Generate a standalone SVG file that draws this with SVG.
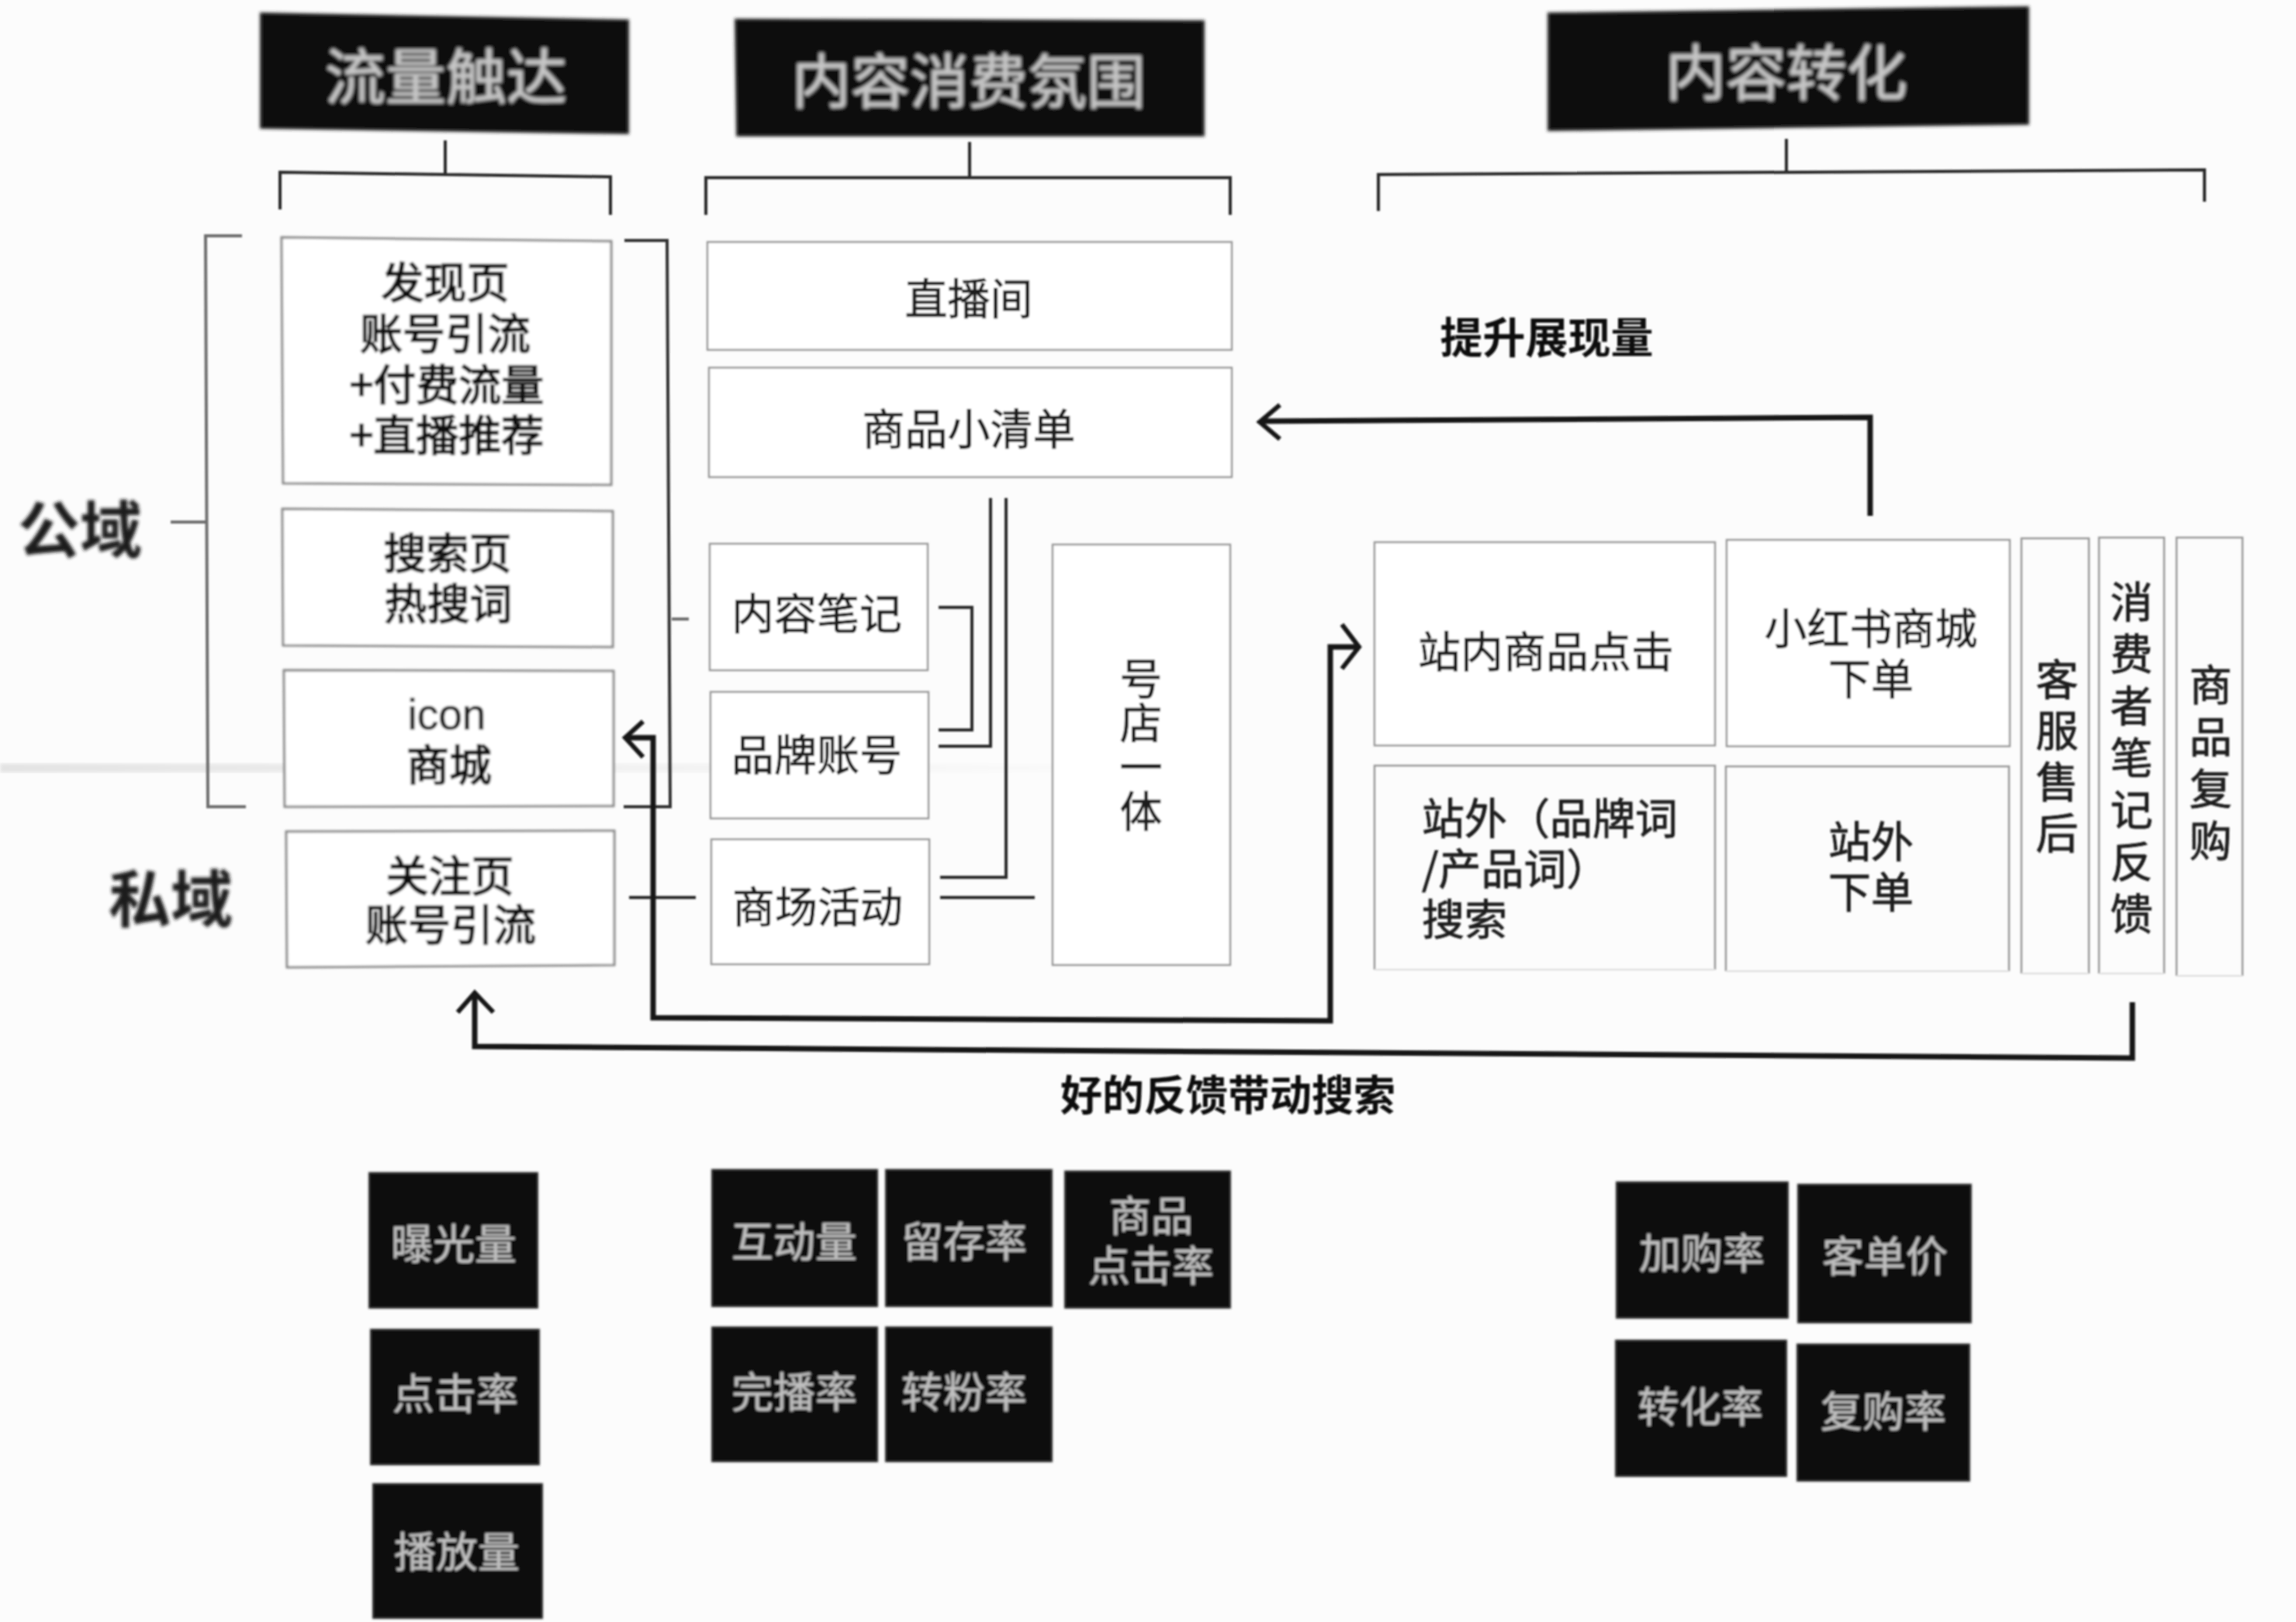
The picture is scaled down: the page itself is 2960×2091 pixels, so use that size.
<svg xmlns="http://www.w3.org/2000/svg" width="2960" height="2091" viewBox="0 0 2960 2091">
<defs>
<style>
text{font-family:"Noto Sans CJK SC","Noto Sans",sans-serif;text-anchor:middle;dominant-baseline:central}
.box{fill:#fff;stroke:#999;stroke-width:2.5}
.boxl{fill:#fff;stroke:#858585;stroke-width:3}
.open{fill:none;stroke:#999;stroke-width:2.5}
.faint{fill:none;stroke:#ddd;stroke-width:2}
.dark{fill:#0d0d0d;stroke:#2a2a2a;stroke-width:2}
.t{font-size:55px;fill:#1c1c1c;stroke:#1c1c1c;stroke-width:.8}
.tb{font-size:55px;fill:#111;stroke:#111;stroke-width:1.8}
.v{writing-mode:vertical-rl}
.h{font-size:78px;fill:#c6c6c6;stroke:#c6c6c6;stroke-width:.8}
.m{font-size:54px;fill:#c0c0c0;stroke:#c0c0c0;stroke-width:.3}
.l{font-size:80px;fill:#1a1a1a;font-weight:700}
.c{font-size:54px;fill:#111;font-weight:700}
.line{fill:none;stroke:#2a2a2a;stroke-width:4}
.gray{fill:none;stroke:#6e6e6e;stroke-width:4}
.thick{fill:none;stroke:#151515;stroke-width:7}
.head{fill:none;stroke:#151515;stroke-width:6}
</style>
<filter id="soft" x="-2%" y="-2%" width="104%" height="104%"><feGaussianBlur stdDeviation="1"/></filter>
<filter id="mid" x="-5%" y="-5%" width="110%" height="110%"><feGaussianBlur stdDeviation="1.5"/></filter>
<filter id="softer" x="-5%" y="-5%" width="110%" height="110%"><feGaussianBlur stdDeviation="2.2"/></filter>
<linearGradient id="fold" x1="0" x2="1" y1="0" y2="0"><stop offset="0" stop-color="#d4d4d4"/><stop offset="0.55" stop-color="#ececec"/><stop offset="1" stop-color="#fcfcfc"/></linearGradient>
</defs>
<rect width="2960" height="2091" fill="#fcfcfc"/>
<rect x="0" y="984" width="1500" height="12" fill="url(#fold)" filter="url(#softer)" opacity="0.6"/>

<g id="nodes-headers" filter="url(#softer)">
<g id="h1"><polygon class="dark" points="336,17 810,26 810,172 336,165"/><text class="h" x="575" y="94">流量触达</text></g>
<g id="h2"><polygon class="dark" points="948,25 1552,27 1552,175 950,175"/><text class="h" x="1249" y="100" style="font-size:76px">内容消费氛围</text></g>
<g id="h3"><polygon class="dark" points="1996,17 2615,9 2615,160 1996,168"/><text class="h" x="2303" y="89">内容转化</text></g>
</g>

<g id="connectors" filter="url(#soft)">
<path class="line" d="M574,181V226M361,270V222L787,228V277"/>
<path class="line" d="M1250,183V230M910,277V229H1586V277"/>
<path class="line" d="M2303,179V224M1777,272V225L2842,219V260"/>
<path class="gray" d="M312,304H265L268,1040H317"/>
<path class="gray" d="M805,310H860L864,1040H804" style="stroke:#333"/>
<path class="gray" d="M220,673H265"/>
<path class="gray" d="M866,798H888"/>
<path class="line" d="M1210,783H1253V941H1210"/>
<path class="line" d="M1210,962H1277V642"/>
<path class="line" d="M1212,1131H1297V642"/>
<path class="line" d="M1212,1157H1334"/>
<path class="line" d="M811,1157H897"/>
<path class="thick" d="M808,951H842V1312L1715,1316V834H1750"/>
<path class="head" d="M829,930L806,951L829,976"/>
<path class="head" d="M1730,805L1752,834L1730,862"/>
<path class="thick" d="M2749,1292V1364L612,1349V1284"/>
<path class="head" d="M590,1305L612,1280L636,1305"/>
<path class="thick" d="M2411,665V538L1628,543"/>
<path class="head" d="M1650,522L1624,544L1650,566"/>
</g>

<g id="left-column" filter="url(#mid)">
<g id="n1"><polygon class="boxl" points="363,306 788,311 788,625 365,623"/><text class="tb" x="574"><tspan x="574" y="360">发现页</tspan><tspan x="574" y="426">账号引流</tspan><tspan x="576" y="492">+付费流量</tspan><tspan x="576" y="557">+直播推荐</tspan></text></g>
<g id="n2"><polygon class="boxl" points="364,656 790,659 790,834 365,832"/><text class="tb"><tspan x="577" y="709">搜索页</tspan><tspan x="578" y="774">热搜词</tspan></text></g>
<g id="n3"><polygon class="boxl" points="366,864 791,865 791,1039 367,1040"/><text class="t" style="font-family:'Liberation Sans',sans-serif"><tspan x="576" y="921">icon</tspan></text><text class="tb" x="579" y="982">商城</text></g>
<g id="n4"><polygon class="boxl" points="369,1072 792,1071 792,1244 370,1247"/><text class="tb"><tspan x="580" y="1125">关注页</tspan><tspan x="581" y="1188">账号引流</tspan></text></g>
</g>

<g id="middle-column" filter="url(#soft)">
<g id="n5"><rect class="box" x="912" y="312" width="676" height="139"/><text class="t" x="1249" y="381">直播间</text></g>
<g id="n6"><rect class="box" x="914" y="474" width="674" height="141"/><text class="t" x="1249" y="549">商品小清单</text></g>
<g id="n7"><rect class="box" x="915" y="701" width="281" height="163"/><text class="t" x="1053" y="787">内容笔记</text></g>
<g id="n8"><rect class="box" x="916" y="892" width="281" height="163"/><text class="t" x="1053" y="969">品牌账号</text></g>
<g id="n9"><rect class="box" x="917" y="1082" width="281" height="161"/><text class="t" x="1054" y="1165">商场活动</text></g>
<g id="n10"><rect class="box" x="1357" y="702" width="229" height="542"/><text class="t v" x="1471" y="961" style="letter-spacing:2px">号店一体</text></g>
</g>

<g id="right-column" filter="url(#soft)">
<g id="n11"><rect class="box" x="1772" y="699" width="439" height="262"/><text class="t" x="1993" y="836">站内商品点击</text></g>
<g id="n12"><rect class="box" x="2226" y="696" width="365" height="266"/><text class="t"><tspan x="2412" y="806">小红书商城</tspan><tspan x="2412" y="871">下单</tspan></text></g>
<g id="n13"><path class="open" d="M1772,1250V987H2211V1250"/><path class="faint" d="M1772,1250H2211"/><text class="t" style="text-anchor:start"><tspan x="1833" y="1051">站外（品牌词</tspan><tspan x="1833" y="1116">/产品词）</tspan><tspan x="1833" y="1181">搜索</tspan></text></g>
<g id="n14"><path class="open" d="M2225,1252V988H2590V1252"/><path class="faint" d="M2225,1252H2590"/><text class="t"><tspan x="2412" y="1081">站外</tspan><tspan x="2412" y="1146">下单</tspan></text></g>
<g id="n15"><path class="open" d="M2606,1255V694H2693V1255"/><path class="faint" d="M2606,1255H2693"/><text class="t v" x="2652" y="980" style="letter-spacing:11px">客服售后</text></g>
<g id="n16"><path class="open" d="M2706,1255V693H2790V1255"/><path class="faint" d="M2706,1255H2790"/><text class="t v" x="2748" y="982" style="letter-spacing:12px">消费者笔记反馈</text></g>
<g id="n17"><path class="open" d="M2806,1258V693H2891V1258"/><path class="faint" d="M2806,1258H2891"/><text class="t v" x="2850" y="989" style="letter-spacing:12px">商品复购</text></g>
</g>

<g id="metrics" filter="url(#mid)">
<g id="m1"><rect class="dark" x="476" y="1512" width="217" height="174"/><text class="m" x="585" y="1600">曝光量</text></g>
<g id="m2"><rect class="dark" x="478" y="1714" width="217" height="174"/><text class="m" x="587" y="1793">点击率</text></g>
<g id="m3"><rect class="dark" x="481" y="1913" width="218" height="173"/><text class="m" x="589" y="1997">播放量</text></g>
<g id="m4"><rect class="dark" x="918" y="1508" width="213" height="176"/><text class="m" x="1024" y="1597">互动量</text></g>
<g id="m5"><rect class="dark" x="1142" y="1508" width="214" height="176"/><text class="m" x="1243" y="1597">留存率</text></g>
<g id="m6"><rect class="dark" x="1373" y="1510" width="213" height="176"/><text class="m"><tspan x="1484" y="1564">商品</tspan><tspan x="1484" y="1628">点击率</tspan></text></g>
<g id="m7"><rect class="dark" x="918" y="1711" width="213" height="173"/><text class="m" x="1024" y="1791">完播率</text></g>
<g id="m8"><rect class="dark" x="1142" y="1711" width="214" height="173"/><text class="m" x="1243" y="1791">转粉率</text></g>
<g id="m9"><rect class="dark" x="2084" y="1524" width="221" height="175"/><text class="m" x="2194" y="1612">加购率</text></g>
<g id="m10"><rect class="dark" x="2318" y="1527" width="223" height="178"/><text class="m" x="2430" y="1616">客单价</text></g>
<g id="m11"><rect class="dark" x="2083" y="1728" width="220" height="175"/><text class="m" x="2192" y="1810">转化率</text></g>
<g id="m12"><rect class="dark" x="2317" y="1733" width="222" height="176"/><text class="m" x="2428" y="1816">复购率</text></g>
</g>

<g id="labels" filter="url(#softer)">
<text class="l" x="103" y="677">公域</text>
<text class="l" x="220" y="1153">私域</text>
</g>
<g id="captions" filter="url(#soft)">
<text class="c" x="1994" y="431" style="font-size:55px">提升展现量</text>
<text class="c" x="1583" y="1408">好的反馈带动搜索</text>
</g>
</svg>
